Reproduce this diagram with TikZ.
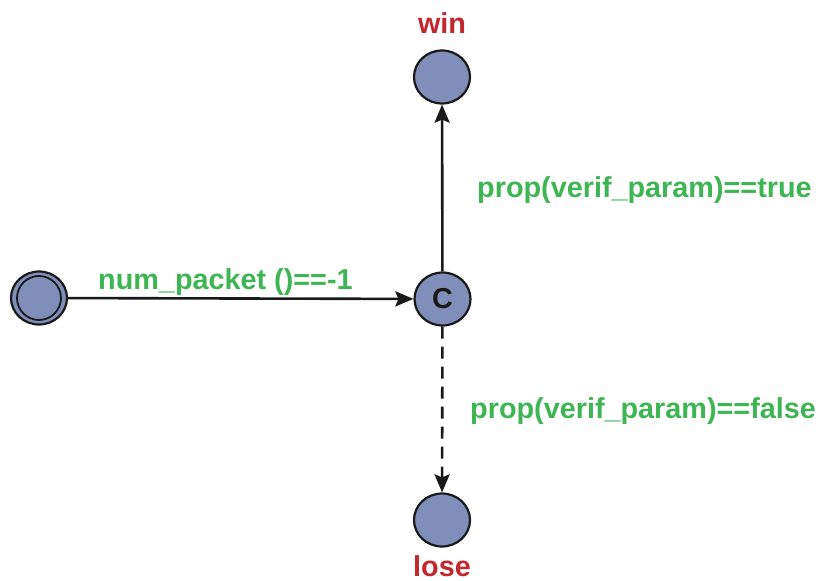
\documentclass[tikz,border=0pt]{standalone}
\usepackage{fontspec}
\setmainfont{Liberation Sans}
\usetikzlibrary{arrows.meta,shapes.geometric}
\definecolor{statefill}{RGB}{127,143,185}
\definecolor{guardgreen}{RGB}{61,181,82}
\definecolor{labelred}{RGB}{193,39,45}
\tikzset{
  state/.style={ellipse,draw=black!90,line width=2.2pt,fill=statefill,
    minimum width=56pt,minimum height=53pt,inner sep=0pt,
    font=\fontsize{28.8}{30}\selectfont\bfseries,text=black!90},
  guard/.style={text=guardgreen,font=\fontsize{28.8}{30}\selectfont\bfseries,
    inner sep=0pt,anchor=base west},
  statename/.style={text=labelred,font=\fontsize{28.8}{30}\selectfont\bfseries,
    inner sep=0pt,anchor=base},
  transition/.style={line width=2.6pt,draw=black!90,
    -{Stealth[length=18pt,width=15pt,inset=3pt]}},
}
\begin{document}
\begin{tikzpicture}[x=1pt,y=-1pt]
  \useasboundingbox (0,0) rectangle (823,581);
  % states
  \node[state] (init) at (39,298) {};
  \node[circle,draw=black!90,line width=1.8pt,minimum size=44pt,inner sep=0pt] (initin) at (39,298) {};
  \node[state] (c) at (442.5,299) {C};
  \node[state] (win) at (442,77) {};
  \node[state] (lose) at (442,520) {};
  % state names
  \node[statename] (winlbl) at (442,33) {win};
  \node[statename] (loselbl) at (442,576.5) {lose};
  % transitions
  \draw[transition] (init) -- (c);
  \draw[transition] (c) -- (win);
  \draw[transition,dash pattern=on 12pt off 8pt] (c) -- (lose);
  % guards
  \node[guard] (g1) at (98,289) {num\_packet ()==-1};
  \node[guard] (g2) at (477,197) {prop(verif\_param)==true};
  \node[guard] (g3) at (470,418) {prop(verif\_param)==false};
\end{tikzpicture}
\end{document}
